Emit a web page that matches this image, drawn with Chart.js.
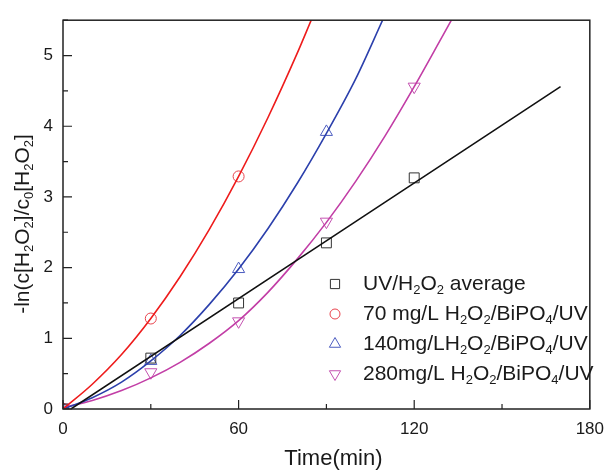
<!DOCTYPE html>
<html lang="en">

<head>
  <meta charset="UTF-8">
  <title>H2O2 kinetics</title>
  <script src="https://cdn.jsdelivr.net/npm/chart.js"></script>
  <style>
    html, body {
      margin: 0;
      padding: 0;
      background: #fff;
    }

    #wrap {
      width: 614px;
      height: 471px;
    }
  </style>
</head>

<body>
  <div id="wrap"><canvas id="kinetics" width="614" height="471"></canvas></div>

  <script>
    // measured points (min, -ln(c/c0))
    const sampleTimes = [0, 30, 60, 90, 120];
    const uvAverage = [0, 0.72, 1.50, 2.35, 3.27];
    const bipo70 = [0, 1.28, 3.29];
    const bipo140 = [0, 0.68, 1.98, 3.92];
    const bipo280 = [0.02, 0.52, 1.24, 2.65, 4.56];

    // fitted curves
    const linearFitTimes = [2.7, 170];
    const linearFitValues = [0, 4.56];
    const fit70Times = [0, 10, 20, 30, 40, 50, 60, 70, 80, 84.8];
    const fit70Values = [0, 0.35, 0.77, 1.28, 1.87, 2.54, 3.29, 4.12, 5.03, 5.5];
    const fit140Times = [0, 10, 20, 30, 40, 50, 60, 70, 80, 90, 100, 109.2];
    const fit140Values = [0, 0.16, 0.38, 0.68, 1.04, 1.48, 1.98, 2.55, 3.19, 3.90, 4.67, 5.5];
    const fit280Times = [0, 10, 20, 30, 40, 50, 60, 70, 80, 90, 100, 110, 120, 130, 132.7];
    const fit280Values = [0.02, 0.12, 0.26, 0.44, 0.66, 0.93, 1.25, 1.65, 2.12, 2.64, 3.22, 3.86, 4.56, 5.30, 5.5];

    const xTicks = [0, 60, 120, 180];
    const yTicks = [0, 1, 2, 3, 4, 5];

    const legendLabels = [
      'UV/H_2O_2 average',
      '70 mg/L H_2O_2/BiPO_4/UV',
      '140mg/LH_2O_2/BiPO_4/UV',
      '280mg/L H_2O_2/BiPO_4/UV'
    ];
    const xTitle = 'Time(min)';
    const yTitle = '-ln(c[H_2O_2]/c_0[H_2O_2]';

    const FONT = '"Liberation Sans", Arial, sans-serif';

    function pairs(xs, ys) {
      return ys.map((y, i) => ({ x: xs[i], y: y }));
    }

    // text with single-character subscripts written as _x
    function richParts(str) {
      const parts = [];
      let buf = '';
      for (let i = 0; i < str.length; i++) {
        if (str[i] === '_' && i + 1 < str.length) {
          if (buf) parts.push({ t: buf, sub: false });
          buf = '';
          parts.push({ t: str[i + 1], sub: true });
          i++;
        } else {
          buf += str[i];
        }
      }
      if (buf) parts.push({ t: buf, sub: false });
      return parts;
    }

    function drawRich(ctx, str, x, y, size, align) {
      const parts = richParts(str);
      const subSize = Math.round(size * 0.64);
      let total = 0;
      parts.forEach(p => {
        ctx.font = (p.sub ? subSize : size) + 'px ' + FONT;
        p.w = ctx.measureText(p.t).width;
        total += p.w;
      });
      let cx = align === 'center' ? x - total / 2 : x;
      ctx.textBaseline = 'middle';
      ctx.textAlign = 'left';
      parts.forEach(p => {
        ctx.font = (p.sub ? subSize : size) + 'px ' + FONT;
        ctx.fillText(p.t, cx, p.sub ? y + size * 0.32 : y);
        cx += p.w;
      });
    }

    const markerStyles = [
      { style: 'rect', rotation: 0, radius: 7, color: '#333333' },
      { style: 'circle', rotation: 0, radius: 5.5, color: '#e8424c' },
      { style: 'triangle', rotation: 0, radius: 7, color: '#4c5cc0' },
      { style: 'triangle', rotation: 180, radius: 7, color: '#c452b0' }
    ];

    const framePlugin = {
      id: 'frame',
      afterDraw(chart) {
        const ctx = chart.ctx;
        const a = chart.chartArea;
        const xs = chart.scales.x;
        const ys = chart.scales.y;
        ctx.save();
        ctx.strokeStyle = '#222';
        ctx.lineWidth = 1.5;
        ctx.strokeRect(a.left, a.top, a.right - a.left, a.bottom - a.top);

        // inward ticks, minor at the midpoints
        ctx.lineWidth = 1.2;
        ctx.beginPath();
        xTicks.forEach((v, i) => {
          const px = xs.getPixelForValue(v);
          ctx.moveTo(px, a.bottom);
          ctx.lineTo(px, a.bottom - 9);
          if (i < xTicks.length - 1) {
            const mx = xs.getPixelForValue((v + xTicks[i + 1]) / 2);
            ctx.moveTo(mx, a.bottom);
            ctx.lineTo(mx, a.bottom - 5);
          }
        });
        yTicks.forEach(v => {
          const py = ys.getPixelForValue(v);
          ctx.moveTo(a.left, py);
          ctx.lineTo(a.left + 9, py);
          const my = ys.getPixelForValue(v + 0.5);
          ctx.moveTo(a.left, my);
          ctx.lineTo(a.left + 5, my);
        });
        ctx.stroke();

        // axis titles
        ctx.fillStyle = '#1a1a1a';
        drawRich(ctx, xTitle, (a.left + a.right) / 2 + 7, 459, 22, 'center');
        ctx.save();
        ctx.translate(23, 224);
        ctx.rotate(-Math.PI / 2);
        drawRich(ctx, yTitle, 0, 0, 21, 'center');
        ctx.restore();

        // legend
        const rowY = [284, 314, 344, 374];
        legendLabels.forEach((label, i) => {
          const m = markerStyles[i];
          ctx.strokeStyle = m.color;
          ctx.fillStyle = 'rgba(0,0,0,0)';
          ctx.lineWidth = 1;
          Chart.helpers.drawPoint(ctx, {
            pointStyle: m.style,
            rotation: m.rotation,
            radius: m.radius - 0.5,
            borderWidth: 1
          }, 335, rowY[i]);
          ctx.fillStyle = '#1a1a1a';
          drawRich(ctx, label, 363, rowY[i], 21, 'left');
        });
        ctx.restore();
      }
    };

    function fitSet(xs, ys, color) {
      return {
        type: 'line',
        data: pairs(xs, ys),
        borderColor: color,
        borderWidth: 1.6,
        pointRadius: 0,
        fill: false,
        cubicInterpolationMode: 'monotone'
      };
    }

    function markerSet(xs, ys, m) {
      return {
        type: 'scatter',
        data: pairs(xs, ys),
        showLine: false,
        pointStyle: m.style,
        rotation: m.rotation,
        pointRadius: m.radius,
        borderColor: m.color,
        backgroundColor: 'rgba(0,0,0,0)',
        borderWidth: 1
      };
    }

    new Chart(document.getElementById('kinetics'), {
      type: 'scatter',
      data: {
        datasets: [
          fitSet(linearFitTimes, linearFitValues, '#111111'),
          fitSet(fit70Times, fit70Values, '#ee1c1c'),
          fitSet(fit140Times, fit140Values, '#2c40ac'),
          fitSet(fit280Times, fit280Values, '#c23ea6'),
          markerSet(sampleTimes, uvAverage, markerStyles[0]),
          markerSet(sampleTimes.slice(0, 3), bipo70, markerStyles[1]),
          markerSet(sampleTimes.slice(0, 4), bipo140, markerStyles[2]),
          markerSet(sampleTimes, bipo280, markerStyles[3])
        ]
      },
      options: {
        responsive: false,
        animation: false,
        layout: { padding: { top: 12, right: 15, left: 0, bottom: 0 } },
        plugins: {
          legend: { display: false },
          tooltip: { enabled: false }
        },
        scales: {
          x: {
            type: 'linear',
            min: 0,
            max: 180,
            afterFit(scale) { scale.height = 62; },
            afterBuildTicks(scale) { scale.ticks = xTicks.map(v => ({ value: v })); },
            grid: { display: false, drawTicks: false },
            border: { display: false },
            ticks: {
              padding: 10,
              color: '#1a1a1a',
              font: { size: 17, family: FONT }
            }
          },
          y: {
            type: 'linear',
            min: 0,
            max: 5.5,
            afterFit(scale) { scale.width = 63; },
            afterBuildTicks(scale) { scale.ticks = yTicks.map(v => ({ value: v })); },
            grid: { display: false, drawTicks: false },
            border: { display: false },
            ticks: {
              padding: 10,
              color: '#1a1a1a',
              font: { size: 17, family: FONT }
            }
          }
        }
      },
      plugins: [framePlugin]
    });
  </script>
</body>

</html>
